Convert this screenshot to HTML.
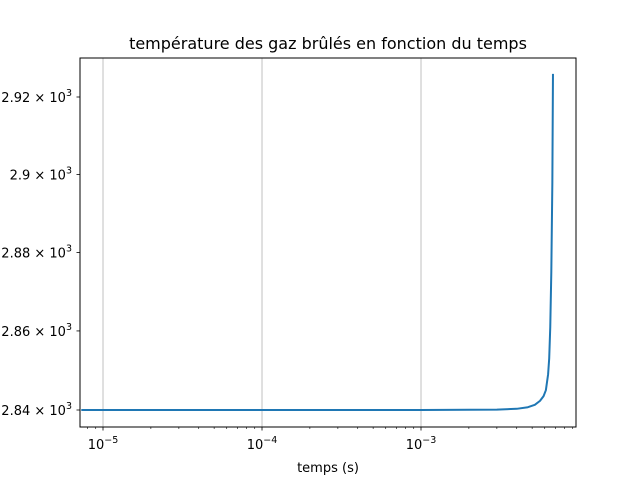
<!DOCTYPE html>
<html><head><meta charset="utf-8"><style>
body{margin:0;background:#fff;}
svg text{font-family:"DejaVu Sans","Liberation Sans",sans-serif;fill:#000;}
</style></head><body>
<svg id="chart" width="640" height="480" xmlns="http://www.w3.org/2000/svg">
<rect width="640" height="480" fill="#fff"/>
<text x="328" y="49" font-size="16" text-anchor="middle">température des gaz brûlés en fonction du temps</text>
<g id="grid"></g>
<g id="series"></g>
<rect x="80" y="58" width="496" height="369" fill="none" stroke="#000" stroke-width="1"/>
<g id="xticks"></g>
<g id="yticks"></g>
<text x="328" y="472" font-size="13" text-anchor="middle">temps (s)</text>
</svg>
<script>
const times = [0.0000073, 0.00001, 0.0001, 0.001, 0.002, 0.003, 0.004, 0.0047, 0.0052, 0.0056, 0.0059, 0.0061, 0.0063, 0.0064, 0.0065, 0.0066, 0.0067, 0.00676];
const temps = [2840, 2840, 2840, 2840, 2840.05, 2840.1, 2840.3, 2840.7, 2841.3, 2842.3, 2843.5, 2845, 2849, 2853, 2861, 2875, 2898, 2926];
const xMajor = [-5, -4, -3];
const xMajorLabels = ["10", "10", "10"];
const xMajorExp = ["−5", "−4", "−3"];
const yTicks = [2840, 2860, 2880, 2900, 2920];
const yTickLabels = ["2.84", "2.86", "2.88", "2.9", "2.92"];

const L=80,R=576,T=58,B=427;
const xmin=-5.1447, xmax=-2.0252;
const ylo=Math.log10(2840), yhi=Math.log10(2920);
function xs(t){return L+(Math.log10(t)-xmin)/(xmax-xmin)*(R-L);}
function ys(v){return 410-(Math.log10(v)-ylo)/(yhi-ylo)*313;}
const NS="http://www.w3.org/2000/svg";
function mk(tag,attrs,parent){const e=document.createElementNS(NS,tag);for(const k in attrs)e.setAttribute(k,attrs[k]);parent.appendChild(e);return e;}
const grid=document.getElementById('grid'),xt=document.getElementById('xticks'),yt=document.getElementById('yticks'),ser=document.getElementById('series');
xMajor.forEach((p,i)=>{
  const x=xs(Math.pow(10,p));
  const g=mk('line',{x1:x,x2:x,y1:T,y2:B,stroke:'#b0b0b0','stroke-width':0.8},grid);
  
  
  const t=mk('line',{x1:x,x2:x,y1:B,y2:B+3.5,stroke:'#000','stroke-width':0.8},xt);
  
  
  const lb=mk('text',{x:x,y:B+22,'font-size':13,'text-anchor':'middle'},xt);
  
  
  lb.textContent=xMajorLabels[i];
  const ex=mk('tspan',{dy:-6,'font-size':9.5},lb);
  ex.textContent=xMajorExp[i];
});
for(let p=-6;p<=-3;p++){for(let m=2;m<=9;m++){
  const x=xs(m*Math.pow(10,p));
  if(x<L||x>R)continue;
  const t=mk('line',{x1:x,x2:x,y1:B,y2:B+2,stroke:'#000','stroke-width':0.6},xt);
  
  
}}
yTicks.forEach((v,i)=>{
  const y=ys(v);
  const t=mk('line',{x1:L-3.5,x2:L,y1:y,y2:y,stroke:'#000','stroke-width':0.8},yt);
  
  
  const lb=mk('text',{x:L-8,y:y+5,'font-size':13,'text-anchor':'end'},yt);
  
  
  lb.textContent=yTickLabels[i]+' × 10';
  const ex=mk('tspan',{dy:-6,'font-size':9.5},lb);
  ex.textContent='3';
});
let d='';
times.forEach((t,i)=>{d+=(i?'L':'M')+xs(t).toFixed(2)+','+ys(temps[i]).toFixed(2);});
const path=mk('path',{d:d,fill:'none',stroke:'#1f77b4','stroke-width':2,'stroke-linejoin':'round'},ser);


</script>
</body></html>
